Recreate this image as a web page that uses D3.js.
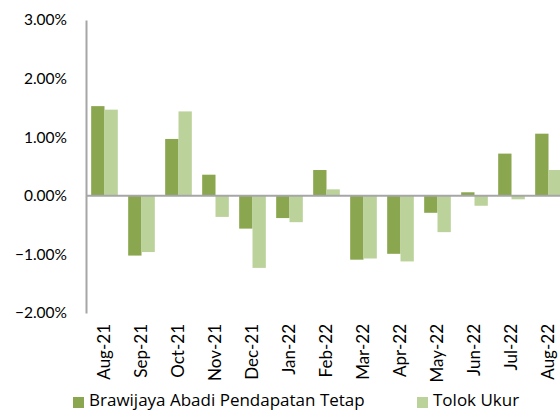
<!DOCTYPE html>
<html><head><meta charset="utf-8">
<script src="https://cdn.jsdelivr.net/npm/d3@7"></script>
<style>body{margin:0;background:#fff}svg{display:block}</style>
</head><body>
<svg id="c" width="560" height="411"></svg>
<script>
const categories = ["Aug-21","Sep-21","Oct-21","Nov-21","Dec-21","Jan-22","Feb-22","Mar-22","Apr-22","May-22","Jun-22","Jul-22","Aug-22"];
const fundValues = [1.53,-1.02,0.97,0.36,-0.56,-0.38,0.44,-1.09,-0.99,-0.29,0.06,0.72,1.06];
const benchmarkValues = [1.47,-0.96,1.44,-0.36,-1.23,-0.45,0.11,-1.07,-1.12,-0.62,-0.17,-0.06,0.44];
const seriesNames = ["Brawijaya Abadi Pendapatan Tetap","Tolok Ukur"];
const yTicks = [-2,-1,0,1,2,3];

const colors = ["#8aa64e","#bcd29b"];
const font = "Lato, 'Open Sans', sans-serif";
const legFont = "'Open Sans', Lato, sans-serif";
const svg = d3.select("#c");
const x0 = 86, x1 = 567, yTop = 20, yBot = 313;
const x = d3.scaleBand().domain(categories).range([x0, x1]).paddingInner(0.28).paddingOuter(0.14);
const xs = d3.scaleBand().domain([0,1]).range([0, x.bandwidth()]);
const y = d3.scaleLinear().domain([-2,3]).range([yBot, yTop]);

const series = [fundValues, benchmarkValues];
series.forEach((vals, si) => {
  svg.append("g").selectAll("rect").data(vals).join("rect")
    .attr("x", (d,i) => x(categories[i]) + xs(si))
    .attr("width", xs.bandwidth())
    .attr("y", d => y(Math.max(0,d)))
    .attr("height", d => Math.abs(y(d) - y(0)))
    .attr("fill", colors[si]);
});

// y axis
const ya = d3.axisLeft(y).tickValues(yTicks).tickFormat(d => d3.format(".2f")(d) + "%").tickSize(0).tickPadding(19);
const gy = svg.append("g").attr("transform", `translate(${x0},0)`).call(ya);
gy.select(".domain").attr("stroke", "#a6a6a6").attr("stroke-width", 2);
gy.selectAll("text").attr("font-family", font).attr("font-size", 15.5).attr("fill", "#000");

// zero line
svg.append("line").attr("x1", x0).attr("x2", 560).attr("y1", y(0)).attr("y2", y(0))
  .attr("stroke", "#a6a6a6").attr("stroke-width", 2);

// x labels
svg.append("g").selectAll("text").data(categories).join("text")
  .attr("transform", d => `translate(${x(d) + x.bandwidth()/2 + 5.5},${324}) rotate(-90)`)
  .attr("text-anchor", "end")
  .attr("font-family", font).attr("font-size", 17).attr("fill", "#000")
  .text(d => d);

// legend
const legX = [73, 417];
seriesNames.forEach((n, i) => {
  svg.append("rect").attr("x", legX[i]).attr("y", 397).attr("width", 11).attr("height", 11).attr("fill", colors[i]);
  svg.append("text").attr("x", legX[i] + 16).attr("y", 406)
    .attr("font-family", legFont).attr("font-size", 17).attr("fill", "#000").text(n);
});
</script>
</body></html>
